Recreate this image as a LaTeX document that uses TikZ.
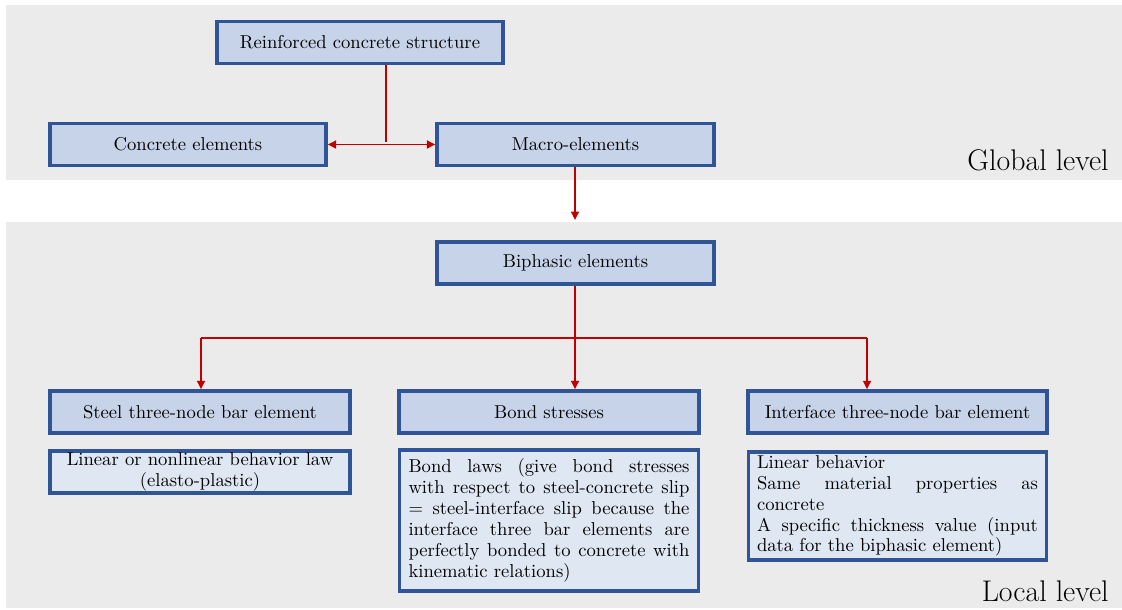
\documentclass[tikz,border=0pt]{standalone}
\usepackage{tikz}
\usetikzlibrary{arrows.meta}
\definecolor{band}{HTML}{EBEBEB}
\definecolor{boxfill}{HTML}{C6D3E8}
\definecolor{subfill}{HTML}{DEE7F2}
\definecolor{boxline}{HTML}{2F5597}
\definecolor{linkred}{HTML}{C00000}
\newcommand{\txt}{\fontsize{10.6}{11.9}\selectfont}

\begin{document}
\begin{tikzpicture}[x=0.02cm,y=-0.02cm,
    box/.style={draw=boxline,fill=boxfill,line width=2pt,minimum height=0.84cm,font=\txt},
    subbox/.style={draw=boxline,fill=subfill,line width=2pt,font=\txt},
    link/.style={draw=linkred,line width=1pt},
    >={Triangle[length=1.7mm,width=1.6mm]}]
     \useasboundingbox (0,0) rectangle (1122,609);
     \fill[band] (6,5) rectangle (1122,180);
     \fill[band] (6,222) rectangle (1122,608);
     \node[box,minimum width=5.72cm] (rc) at (360,42.5) {Reinforced concrete structure};
     \node[box,minimum width=5.52cm] (conc) at (188,144.5) {Concrete elements};
     \node[box,minimum width=5.54cm] (macro) at (575.5,144.5) {Macro-elements};
     \node[box,minimum width=5.54cm] (biph) at (575.5,263) {Biphasic elements};
     \node[box,minimum width=6cm] (steel) at (200,412) {Steel three-node bar element};
     \node[box,minimum width=6cm] (bond) at (549,412) {Bond stresses};
     \node[box,minimum width=5.98cm] (iface) at (897.5,412) {Interface three-node bar element};
     \node[subbox,minimum width=6cm,minimum height=0.84cm,align=center,inner sep=1pt] (law) at (200,472)
       {Linear or nonlinear behavior law\\(elasto-plastic)};
     \node[subbox,minimum height=2.82cm,text width=5.62cm,align=justify,inner xsep=0.18cm,inner ysep=0.1cm] (laws) at (549,520.5)
       {Bond laws (give bond stresses\linebreak with respect to steel-concrete slip\linebreak
        = steel-interface slip because the\linebreak interface three bar elements are\linebreak
        perfectly bonded to concrete with\linebreak kinematic relations)};
     \node[subbox,minimum height=2.16cm,text width=5.62cm,align=justify,inner xsep=0.17cm,inner ysep=0.03cm] (lin) at (897.5,506)
       {Linear behavior\\ Same material properties as\linebreak concrete\\
        A specific thickness value (input\linebreak data for the biphasic element)};
     \node[anchor=south east,font=\fontsize{17}{20}\selectfont,inner sep=0pt] (glob) at (1109,171) {Global level};
     \node[anchor=south east,font=\fontsize{17}{20}\selectfont,inner sep=0pt] (loc) at (1109,602) {Local level};
     \coordinate (split) at (386,142);
     \coordinate (gap) at (575,220);
     \coordinate (lfork) at (201,338);
     \coordinate (rfork) at (867,338);
     \draw[link] (split |- rc.south) -- (split);
     \draw[link,<->] (conc.east) -- (macro.west);
     \draw[link,->] (gap |- macro.south) -- (gap);
     \draw[link,->] (gap |- biph.south) -- (gap |- bond.north);
     \draw[link] (lfork) -- (rfork);
     \draw[link,->] (lfork) -- (lfork |- steel.north);
     \draw[link,->] (rfork) -- (rfork |- iface.north);
\end{tikzpicture}
\end{document}
